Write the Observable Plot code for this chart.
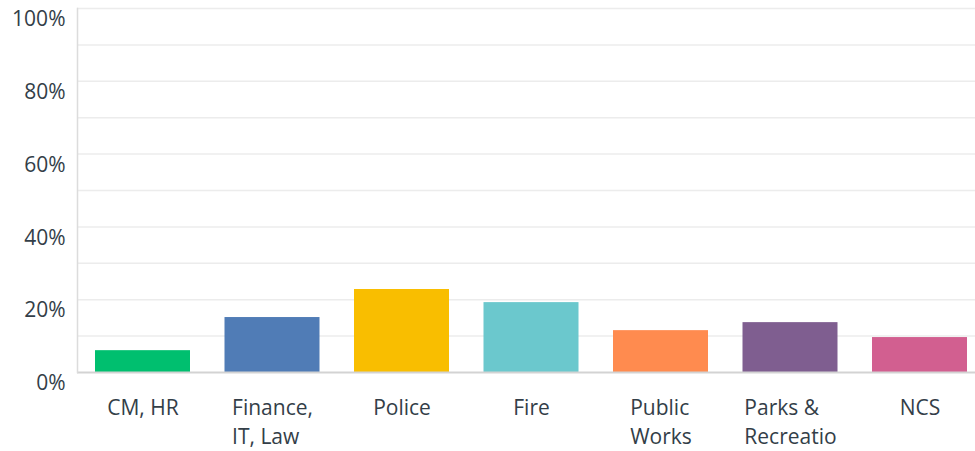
<!DOCTYPE html>
<html><head><meta charset="utf-8">
<script src="https://cdn.jsdelivr.net/npm/d3@7"></script>
<script src="https://cdn.jsdelivr.net/npm/@observablehq/plot@0.6"></script>
<style>html,body{margin:0;padding:0;background:#fff} svg{display:block}</style>
</head><body><div id="chart"></div>
<script>
const categories = ["CM, HR", "Finance,\nIT, Law", "Police", "Fire", "Public\nWorks", "Parks &\nRecreatio", "NCS"];
const values = [0.060, 0.151, 0.228, 0.192, 0.115, 0.137, 0.096];
const colors = ["#00BF6F", "#507CB6", "#F9BE00", "#6BC8CD", "#FF8B4F", "#7F5E90", "#D25F90"];
const yTickValues = [0, 0.2, 0.4, 0.6, 0.8, 1];
const gridValues = [0.1, 0.2, 0.3, 0.4, 0.5, 0.6, 0.7, 0.8, 0.9, 1];

const data = categories.map((c, i) => ({category: c, value: values[i], color: colors[i]}));

const chart = Plot.plot({
  width: 975, height: 451,
  marginLeft: 77, marginRight: 0, marginTop: 8, marginBottom: 79,
  style: {fontFamily: "'Open Sans', Roboto, sans-serif", fontSize: "21px", color: "#333e48", background: "#fff"},
  x: {domain: categories, paddingInner: 0.2664, paddingOuter: 0.139, insetRight: -10, round: false, axis: null},
  y: {domain: [0, 1], axis: null},
  marks: [
    Plot.ruleY(gridValues, {stroke: "#ececec", strokeWidth: 1.5}),
    Plot.barY(data, {x: "category", y: "value", fill: "color"}),
    Plot.ruleY([0], {stroke: "#d3d3d3", strokeWidth: 2}),
    Plot.frame({anchor: "left", stroke: "#dcdcdc", strokeWidth: 1.5}),
    Plot.axisY({ticks: yTickValues, tickSize: 0, tickPadding: 12, dy: 11, tickFormat: d3.format(".0%"), fontSize: 21, fill: "#333e48", label: null}),
    Plot.text(data, {x: "category", y: () => 0, text: "category", textAnchor: "start", lineAnchor: "top", dy: 22, lineHeight: 1.38, fontSize: 21, fill: "#333e48"})
  ]
});
document.getElementById("chart").append(chart);
chart.querySelectorAll('g[aria-label="text"] text').forEach(t => {
  const w = t.getBBox().width;
  const tr = t.getAttribute("transform") || "";
  t.setAttribute("transform", tr + ` translate(${-w / 2},0)`);
});
</script>
</body></html>
